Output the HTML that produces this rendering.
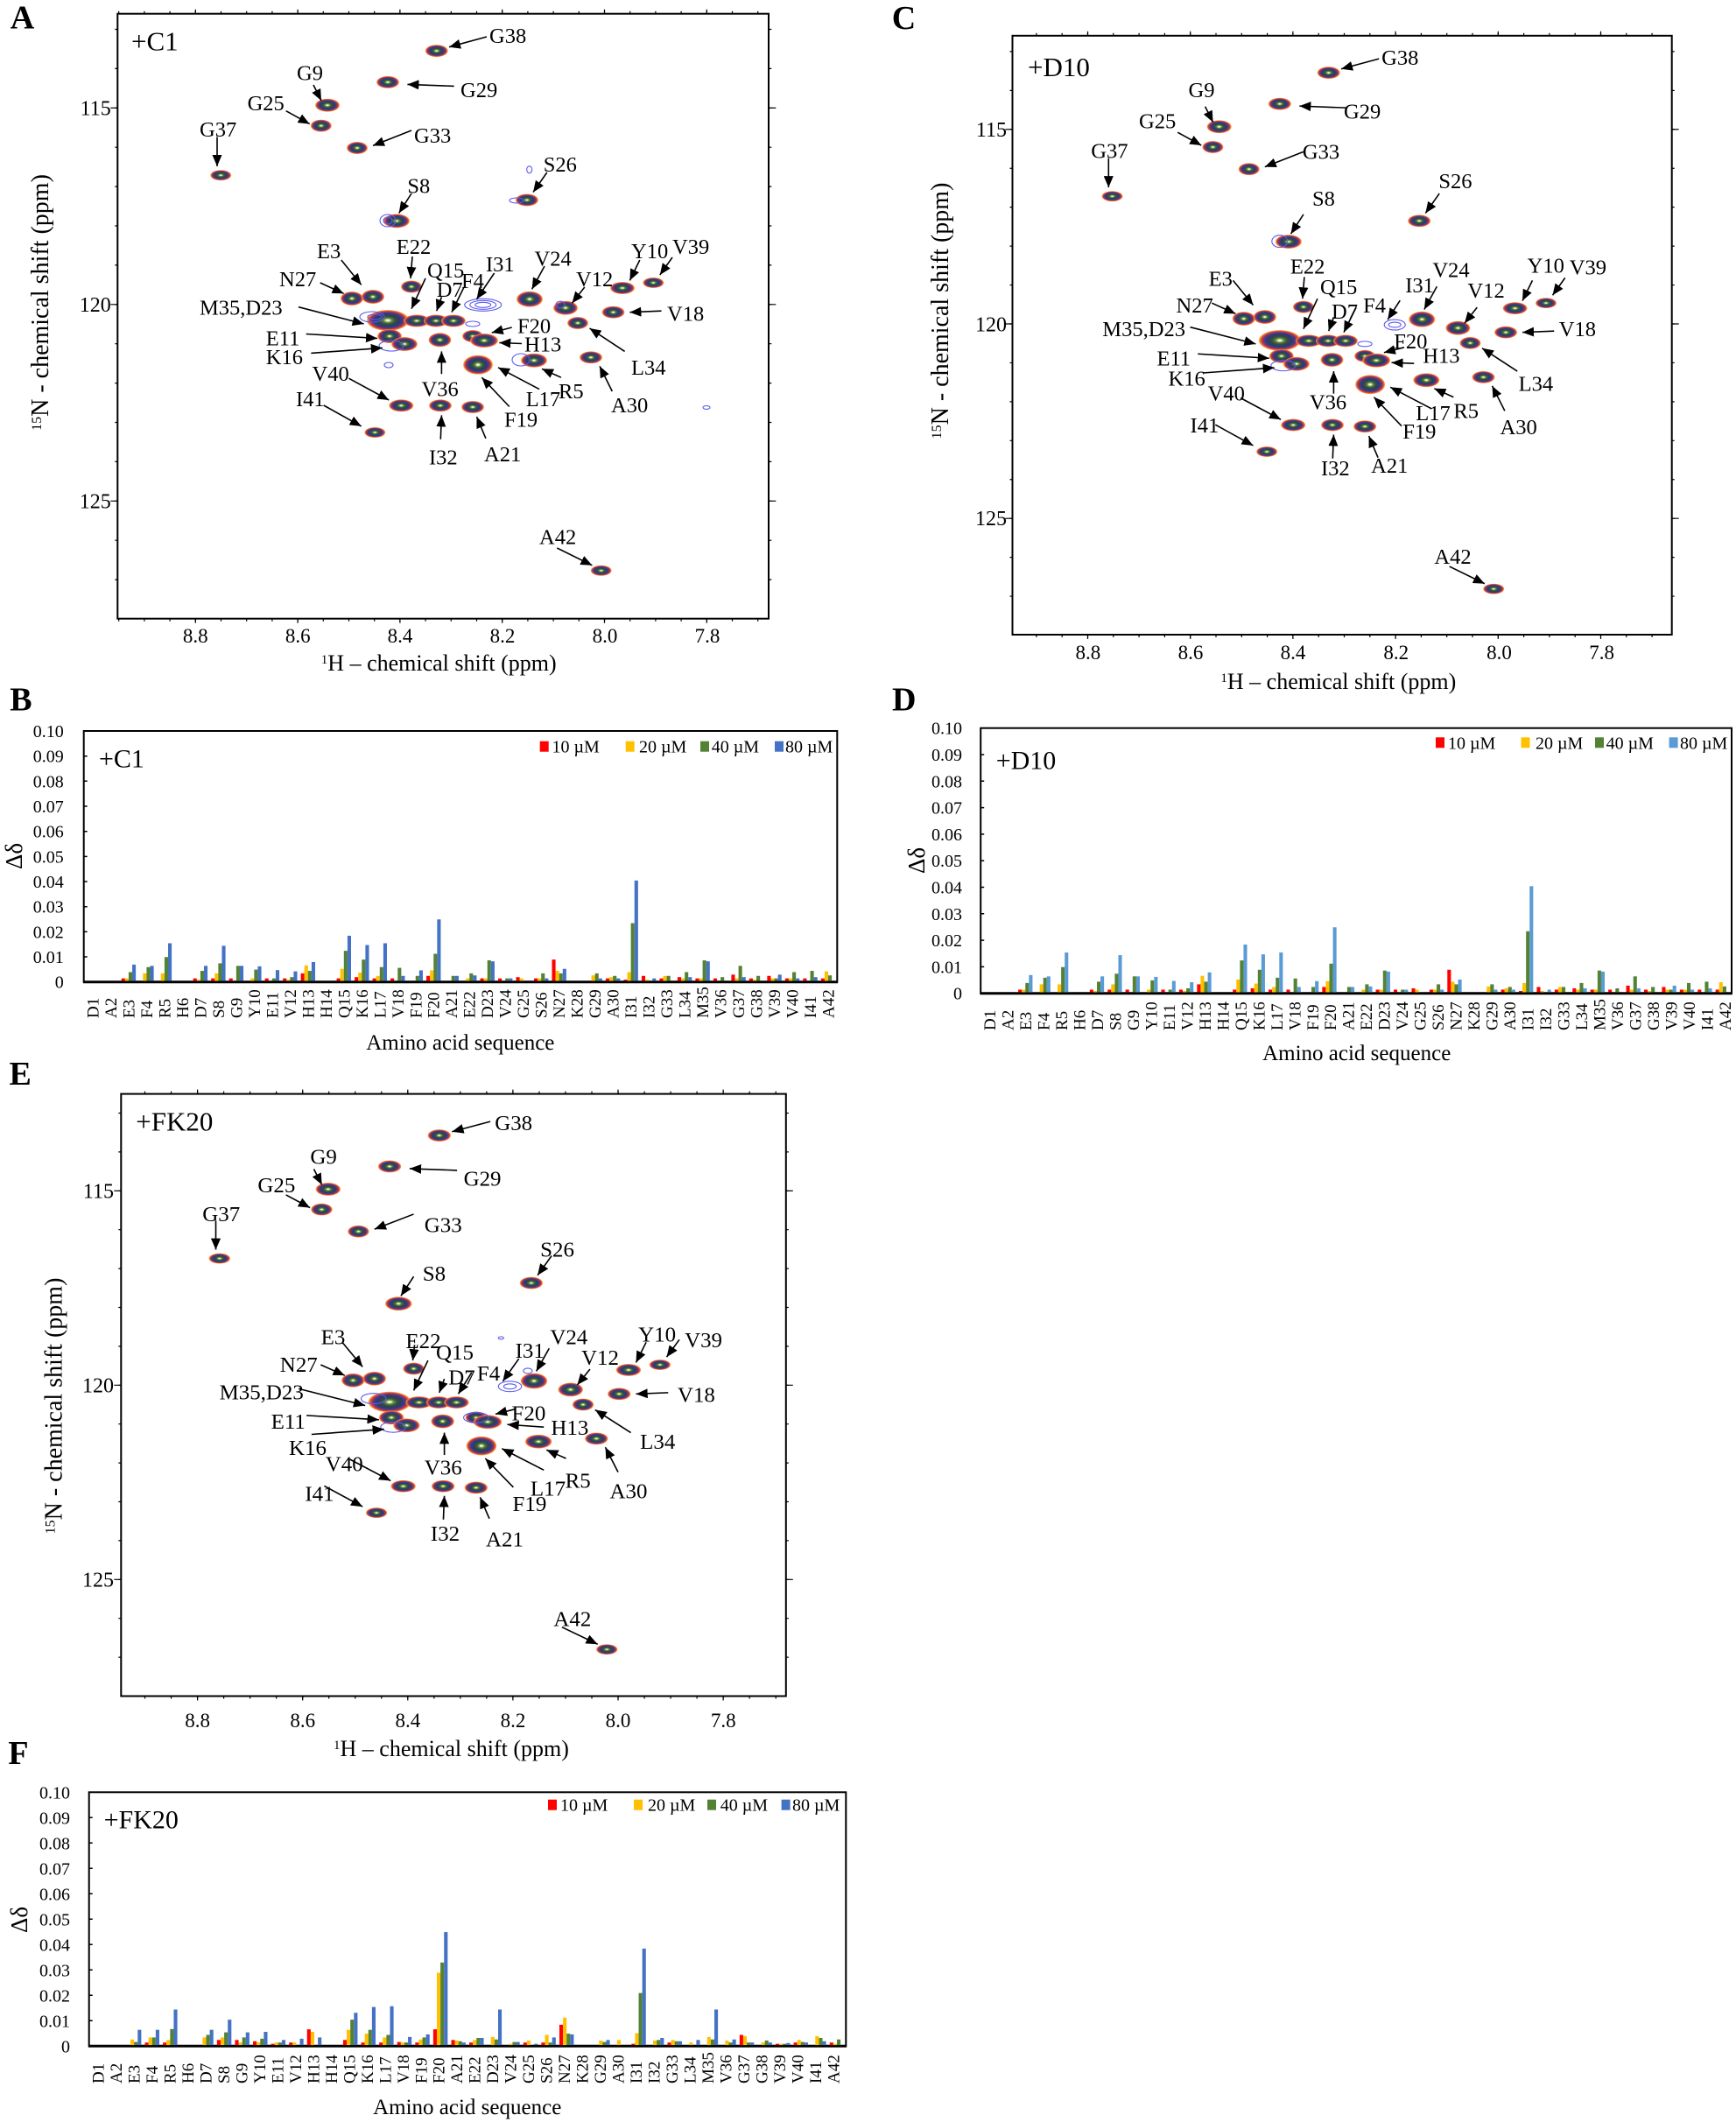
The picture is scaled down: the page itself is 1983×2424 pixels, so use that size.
<!DOCTYPE html>
<html><head><meta charset="utf-8"><style>
html,body{margin:0;padding:0;background:#fff}
svg{display:block}
text{font-family:"Liberation Serif","Times New Roman",serif;fill:#000}
.pl{font-size:24.5px}
.bl{font-size:38px;font-weight:bold}
</style></head><body>
<svg xmlns="http://www.w3.org/2000/svg" width="1983" height="2424" viewBox="0 0 1983 2424">
<defs>
<radialGradient id="pk">
<stop offset="0" stop-color="#ffffff"/>
<stop offset="0.08" stop-color="#e4f2b8"/>
<stop offset="0.2" stop-color="#5f8a42"/>
<stop offset="0.36" stop-color="#34503e"/>
<stop offset="0.56" stop-color="#2e3a68"/>
<stop offset="0.72" stop-color="#433c8e"/>
<stop offset="0.83" stop-color="#b83048"/>
<stop offset="0.92" stop-color="#ee6a30"/>
<stop offset="1" stop-color="#f5b040" stop-opacity="0.75"/>
</radialGradient>
<marker id="ah" markerUnits="userSpaceOnUse" markerWidth="14" markerHeight="11" refX="13" refY="5.5" orient="auto"><path d="M0,0 L13,5.5 L0,11 z" fill="#000"/></marker>
</defs>
<rect width="1983" height="2424" fill="#fff"/>

<!-- ================= PANEL A ================= -->
<text class="bl" x="11.7" y="32.3">A</text>
<rect x="134.3" y="15.7" width="743.7" height="691" fill="none" stroke="#000" stroke-width="2"/>
<g stroke="#000" fill="none">
<line x1="135.1" y1="14.2" x2="878" y2="14.2" stroke-width="3" stroke-dasharray="1.2 28"/>
<line x1="222.7" y1="13.2" x2="878" y2="13.2" stroke-width="5" stroke-dasharray="1.2 115.6"/>
<line x1="135.1" y1="708.2" x2="878" y2="708.2" stroke-width="3" stroke-dasharray="1.2 28"/>
<line x1="222.7" y1="709.2" x2="878" y2="709.2" stroke-width="5" stroke-dasharray="1.2 115.6"/>
<line x1="132.8" y1="32.9" x2="132.8" y2="706" stroke-width="3" stroke-dasharray="1.2 43.7"/>
<line x1="130.3" y1="122.7" x2="130.3" y2="706" stroke-width="8" stroke-dasharray="1.2 223.3"/>
<line x1="879.8" y1="32.9" x2="879.8" y2="706" stroke-width="3" stroke-dasharray="1.2 43.7"/>
<line x1="882.3" y1="122.7" x2="882.3" y2="706" stroke-width="8" stroke-dasharray="1.2 223.3"/>
</g>
<g font-size="24" text-anchor="end">
<text x="126.7" y="131.3">115</text><text x="126.7" y="355.8">120</text><text x="126.7" y="580.3">125</text>
</g>
<g font-size="23" text-anchor="middle">
<text x="223.3" y="734">8.8</text><text x="340.3" y="734">8.6</text><text x="457" y="734">8.4</text><text x="574" y="734">8.2</text><text x="691" y="734">8.0</text><text x="808" y="734">7.8</text>
</g>
<text x="366.8" y="766" font-size="26"><tspan font-size="15" baseline-shift="super">1</tspan>H – chemical shift (ppm)</text>
<text transform="translate(46,345.5) rotate(-90)" y="9" text-anchor="middle" font-size="28"><tspan font-size="16" baseline-shift="super">15</tspan>N - chemical shift (ppm)</text>
<text x="150" y="57.3" font-size="31">+C1</text>
<g>
<g fill="url(#pk)">
<ellipse cx="498.7" cy="58.1" rx="13" ry="7"/><ellipse cx="443" cy="93.9" rx="13" ry="7"/><ellipse cx="374" cy="120.2" rx="14" ry="7.5"/><ellipse cx="366.8" cy="143.6" rx="12" ry="7"/><ellipse cx="408" cy="169" rx="12" ry="7"/><ellipse cx="252.2" cy="200.2" rx="12" ry="6"/><ellipse cx="601.9" cy="228.5" rx="13" ry="7"/><ellipse cx="453" cy="252.4" rx="15" ry="8"/><ellipse cx="470" cy="327.5" rx="12" ry="7"/><ellipse cx="402" cy="341" rx="13" ry="8"/><ellipse cx="426" cy="339" rx="13" ry="8"/><ellipse cx="605" cy="341.7" rx="15" ry="9"/><ellipse cx="711" cy="329" rx="14" ry="7"/><ellipse cx="746.3" cy="323" rx="12" ry="6"/><ellipse cx="646" cy="351.7" rx="14" ry="8"/><ellipse cx="700.5" cy="356.7" rx="13" ry="7"/><ellipse cx="660" cy="369" rx="12" ry="7"/><ellipse cx="443" cy="366" rx="24" ry="12"/><ellipse cx="476" cy="366.5" rx="15" ry="7"/><ellipse cx="498" cy="366.5" rx="14" ry="7"/><ellipse cx="518" cy="366.5" rx="14" ry="7"/><ellipse cx="445" cy="384" rx="14" ry="8"/><ellipse cx="462" cy="393" rx="15" ry="8"/><ellipse cx="502.5" cy="388.3" rx="13" ry="8"/><ellipse cx="540" cy="384" rx="12" ry="7"/><ellipse cx="553" cy="389" rx="16" ry="8"/><ellipse cx="610" cy="411.7" rx="15" ry="8"/><ellipse cx="675" cy="408.3" rx="13" ry="7"/><ellipse cx="546" cy="416.7" rx="17" ry="11"/><ellipse cx="458.3" cy="463.3" rx="14" ry="7"/><ellipse cx="503" cy="463.3" rx="13" ry="7"/><ellipse cx="540" cy="465" rx="13" ry="7"/><ellipse cx="428.3" cy="494" rx="12" ry="6"/><ellipse cx="686.7" cy="651.8" rx="12" ry="6"/>
</g>
<g fill="none" stroke="#5a5af0" stroke-width="1.1">
<ellipse cx="551.7" cy="348.3" rx="21" ry="7"/><ellipse cx="551.7" cy="348.3" rx="15" ry="5"/><ellipse cx="551.7" cy="348.3" rx="9" ry="3"/>
<ellipse cx="425" cy="362" rx="14" ry="6"/><ellipse cx="428" cy="362" rx="8" ry="3"/>
<ellipse cx="443" cy="252" rx="9" ry="7"/><ellipse cx="443" cy="252" rx="5" ry="4"/>
<ellipse cx="595" cy="411" rx="10" ry="7"/><ellipse cx="447" cy="395" rx="14" ry="6"/>
<ellipse cx="807" cy="465.5" rx="4" ry="2"/><ellipse cx="444" cy="417" rx="5" ry="3"/><ellipse cx="604.7" cy="193.8" rx="3" ry="4"/><ellipse cx="590" cy="229" rx="8" ry="3"/><ellipse cx="540" cy="370" rx="8" ry="3"/><ellipse cx="640" cy="348" rx="5" ry="4"/>
</g>
<g stroke="#000" stroke-width="1.6" marker-end="url(#ah)">
<line x1="556" y1="42" x2="513" y2="53.7"/><line x1="518.7" y1="98.4" x2="465.4" y2="96.4"/><line x1="358" y1="97" x2="367" y2="115"/><line x1="326.7" y1="126.7" x2="353.7" y2="141.6"/><line x1="470" y1="149" x2="426" y2="166.4"/><line x1="248" y1="156.5" x2="248" y2="190"/><line x1="624.8" y1="197" x2="609" y2="219.6"/><line x1="470" y1="221" x2="455.7" y2="243.4"/><line x1="389.8" y1="297" x2="412.7" y2="325.4"/><line x1="365.7" y1="323" x2="392.6" y2="335.3"/><line x1="471" y1="293" x2="469" y2="318"/><line x1="486" y1="318" x2="470" y2="352.7"/><line x1="504.4" y1="339.3" x2="498.7" y2="355.2"/><line x1="530" y1="328" x2="516" y2="356.7"/><line x1="564.6" y1="312" x2="544.5" y2="341.8"/><line x1="622" y1="304" x2="607.6" y2="330.4"/><line x1="667.8" y1="328" x2="653.5" y2="346.3"/><line x1="730.8" y1="297" x2="719.4" y2="320.4"/><line x1="768" y1="294" x2="753.8" y2="314"/><line x1="755.5" y1="355.2" x2="719.4" y2="356.7"/><line x1="713.6" y1="401.4" x2="673.5" y2="375"/><line x1="341" y1="350.7" x2="415.6" y2="370"/><line x1="584.7" y1="374" x2="561.7" y2="380"/><line x1="596" y1="392.5" x2="570.3" y2="391.5"/><line x1="349.7" y1="381.5" x2="431" y2="386.5"/><line x1="355.4" y1="403.4" x2="436.8" y2="397.4"/><line x1="504.4" y1="427.2" x2="504.4" y2="401.4"/><line x1="616" y1="444.6" x2="569" y2="419.8"/><line x1="640.9" y1="431.2" x2="619" y2="421.3"/><line x1="581.8" y1="464.5" x2="550.3" y2="431.2"/><line x1="699.3" y1="447" x2="685" y2="418.3"/><line x1="398.4" y1="432.2" x2="444.2" y2="457"/><line x1="503.3" y1="501.8" x2="504.4" y2="474.4"/><line x1="554.9" y1="500.8" x2="544.5" y2="476"/><line x1="369.7" y1="463" x2="412.7" y2="486.9"/><line x1="636.3" y1="626" x2="676.4" y2="645.8"/>
</g>
<g class="pl">
<text x="559" y="49">G38</text><text x="526" y="111">G29</text><text x="339" y="91.5">G9</text><text x="282.6" y="126">G25</text><text x="473" y="163">G33</text><text x="228" y="156">G37</text><text x="620.8" y="196">S26</text><text x="465.4" y="220.6">S8</text><text x="362" y="295">E3</text><text x="319" y="327">N27</text><text x="452.8" y="290">E22</text><text x="488" y="317">Q15</text><text x="498.7" y="339">D7</text><text x="527" y="329">F4</text><text x="555" y="310">I31</text><text x="610.5" y="303.6">V24</text><text x="658" y="327">V12</text><text x="721" y="295">Y10</text><text x="768" y="290">V39</text><text x="762" y="366.7">V18</text><text x="721" y="428">L34</text><text x="228" y="359.7">M35,D23</text><text x="591" y="380.6">F20</text><text x="599" y="401.5">H13</text><text x="303.8" y="394.5">E11</text><text x="303.8" y="416">K16</text><text x="481.5" y="452.6">V36</text><text x="600.7" y="464">L17</text><text x="638" y="455">R5</text><text x="576" y="487.4">F19</text><text x="698" y="471">A30</text><text x="356.5" y="435">V40</text><text x="490" y="530.6">I32</text><text x="553" y="527">A21</text><text x="338" y="464">I41</text><text x="616" y="621.5">A42</text>
</g>
</g>

<!-- ================= PANEL C ================= -->
<text class="bl" x="1018.8" y="33">C</text>
<rect x="1156.5" y="40.8" width="753.2" height="684.2" fill="none" stroke="#000" stroke-width="2"/>
<g stroke="#000" fill="none">
<line x1="1183.3" y1="39.3" x2="1909" y2="39.3" stroke-width="3" stroke-dasharray="1.2 28.1"/>
<line x1="1241.9" y1="38.3" x2="1909" y2="38.3" stroke-width="5" stroke-dasharray="1.2 116"/>
<line x1="1183.3" y1="726.5" x2="1909" y2="726.5" stroke-width="3" stroke-dasharray="1.2 28.1"/>
<line x1="1241.9" y1="727.5" x2="1909" y2="727.5" stroke-width="5" stroke-dasharray="1.2 116"/>
<line x1="1155" y1="58.3" x2="1155" y2="724" stroke-width="3" stroke-dasharray="1.2 43.24"/>
<line x1="1152.5" y1="147.2" x2="1152.5" y2="724" stroke-width="8" stroke-dasharray="1.2 221"/>
<line x1="1911.2" y1="58.3" x2="1911.2" y2="724" stroke-width="3" stroke-dasharray="1.2 43.24"/>
<line x1="1913.7" y1="147.2" x2="1913.7" y2="724" stroke-width="8" stroke-dasharray="1.2 221"/>
</g>
<g font-size="24" text-anchor="end">
<text x="1150" y="155.8">115</text><text x="1150" y="378.5">120</text><text x="1150" y="600.2">125</text>
</g>
<g font-size="23" text-anchor="middle">
<text x="1242.9" y="753">8.8</text><text x="1360" y="753">8.6</text><text x="1477" y="753">8.4</text><text x="1594.8" y="753">8.2</text><text x="1712.5" y="753">8.0</text><text x="1829.6" y="753">7.8</text>
</g>
<text x="1394.4" y="787" font-size="26"><tspan font-size="15" baseline-shift="super">1</tspan>H – chemical shift (ppm)</text>
<text transform="translate(1074,355) rotate(-90)" y="9" text-anchor="middle" font-size="28"><tspan font-size="16" baseline-shift="super">15</tspan>N - chemical shift (ppm)</text>
<text x="1174" y="87" font-size="31">+D10</text>
<g transform="matrix(1.0028 0 0 0.9931 1017.6 25.4)">
<g fill="url(#pk)">
<ellipse cx="498.7" cy="58.1" rx="13" ry="7"/><ellipse cx="443" cy="93.9" rx="13" ry="7"/><ellipse cx="374" cy="120.2" rx="14" ry="7.5"/><ellipse cx="366.8" cy="143.6" rx="12" ry="7"/><ellipse cx="408" cy="169" rx="12" ry="7"/><ellipse cx="252.2" cy="200.2" rx="12" ry="6"/><ellipse cx="601.9" cy="228.5" rx="13" ry="7"/><ellipse cx="453" cy="252.4" rx="15" ry="8"/><ellipse cx="470" cy="327.5" rx="12" ry="7"/><ellipse cx="402" cy="341" rx="13" ry="8"/><ellipse cx="426" cy="339" rx="13" ry="8"/><ellipse cx="605" cy="341.7" rx="15" ry="9"/><ellipse cx="711" cy="329" rx="14" ry="7"/><ellipse cx="746.3" cy="323" rx="12" ry="6"/><ellipse cx="646" cy="351.7" rx="14" ry="8"/><ellipse cx="700.5" cy="356.7" rx="13" ry="7"/><ellipse cx="660" cy="369" rx="12" ry="7"/><ellipse cx="443" cy="366" rx="24" ry="12"/><ellipse cx="476" cy="366.5" rx="15" ry="7"/><ellipse cx="498" cy="366.5" rx="14" ry="7"/><ellipse cx="518" cy="366.5" rx="14" ry="7"/><ellipse cx="445" cy="384" rx="14" ry="8"/><ellipse cx="462" cy="393" rx="15" ry="8"/><ellipse cx="502.5" cy="388.3" rx="13" ry="8"/><ellipse cx="540" cy="384" rx="12" ry="7"/><ellipse cx="553" cy="389" rx="16" ry="8"/><ellipse cx="610" cy="411.7" rx="15" ry="8"/><ellipse cx="675" cy="408.3" rx="13" ry="7"/><ellipse cx="546" cy="416.7" rx="17" ry="11"/><ellipse cx="458.3" cy="463.3" rx="14" ry="7"/><ellipse cx="503" cy="463.3" rx="13" ry="7"/><ellipse cx="540" cy="465" rx="13" ry="7"/><ellipse cx="428.3" cy="494" rx="12" ry="6"/><ellipse cx="686.7" cy="651.8" rx="12" ry="6"/>
</g>
<g fill="none" stroke="#5a5af0" stroke-width="1.1">
<ellipse cx="574" cy="348" rx="12" ry="6"/><ellipse cx="574" cy="348" rx="7" ry="3"/>
<ellipse cx="443" cy="252" rx="9" ry="7"/><ellipse cx="447" cy="395" rx="14" ry="6"/><ellipse cx="540" cy="370" rx="8" ry="3"/>
</g>
<g stroke="#000" stroke-width="1.6" marker-end="url(#ah)">
<line x1="556" y1="42" x2="513" y2="53.7"/><line x1="518.7" y1="98.4" x2="465.4" y2="96.4"/><line x1="358" y1="97" x2="367" y2="115"/><line x1="326.7" y1="126.7" x2="353.7" y2="141.6"/><line x1="470" y1="149" x2="426" y2="166.4"/><line x1="248" y1="156.5" x2="248" y2="190"/><line x1="624.8" y1="197" x2="609" y2="219.6"/><line x1="470" y1="221" x2="455.7" y2="243.4"/><line x1="389.8" y1="297" x2="412.7" y2="325.4"/><line x1="365.7" y1="323" x2="392.6" y2="335.3"/><line x1="471" y1="293" x2="469" y2="318"/><line x1="486" y1="318" x2="470" y2="352.7"/><line x1="504.4" y1="339.3" x2="498.7" y2="355.2"/><line x1="530" y1="328" x2="516" y2="356.7"/><line x1="580" y1="320" x2="566" y2="342"/><line x1="622" y1="304" x2="607.6" y2="330.4"/><line x1="667.8" y1="328" x2="653.5" y2="346.3"/><line x1="730.8" y1="297" x2="719.4" y2="320.4"/><line x1="768" y1="294" x2="753.8" y2="314"/><line x1="755.5" y1="355.2" x2="719.4" y2="356.7"/><line x1="713.6" y1="401.4" x2="673.5" y2="375"/><line x1="341" y1="350.7" x2="415.6" y2="370"/><line x1="584.7" y1="374" x2="561.7" y2="380"/><line x1="596" y1="392.5" x2="570.3" y2="391.5"/><line x1="349.7" y1="381.5" x2="431" y2="386.5"/><line x1="355.4" y1="403.4" x2="436.8" y2="397.4"/><line x1="504.4" y1="427.2" x2="504.4" y2="401.4"/><line x1="616" y1="444.6" x2="569" y2="419.8"/><line x1="640.9" y1="431.2" x2="619" y2="421.3"/><line x1="581.8" y1="464.5" x2="550.3" y2="431.2"/><line x1="699.3" y1="447" x2="685" y2="418.3"/><line x1="398.4" y1="432.2" x2="444.2" y2="457"/><line x1="503.3" y1="501.8" x2="504.4" y2="474.4"/><line x1="554.9" y1="500.8" x2="544.5" y2="476"/><line x1="369.7" y1="463" x2="412.7" y2="486.9"/><line x1="636.3" y1="626" x2="676.4" y2="645.8"/>
</g>
<g class="pl">
<text x="559" y="49">G38</text><text x="516" y="111">G29</text><text x="339" y="86">G9</text><text x="282.6" y="122">G25</text><text x="469" y="157">G33</text><text x="228" y="156">G37</text><text x="624" y="191">S26</text><text x="480" y="211">S8</text><text x="362" y="303">E3</text><text x="325" y="334">N27</text><text x="455" y="289">E22</text><text x="489" y="313">Q15</text><text x="502" y="341">D7</text><text x="538" y="334">F4</text><text x="586" y="311">I31</text><text x="617" y="293">V24</text><text x="657" y="317">V12</text><text x="725" y="288">Y10</text><text x="773" y="290">V39</text><text x="761" y="361">V18</text><text x="715" y="424">L34</text><text x="241" y="361">M35,D23</text><text x="573" y="375">F20</text><text x="606" y="392">H13</text><text x="303" y="395">E11</text><text x="316" y="418">K16</text><text x="477" y="445">V36</text><text x="598" y="458">L17</text><text x="641" y="455">R5</text><text x="583" y="479">F19</text><text x="694" y="474">A30</text><text x="361" y="435">V40</text><text x="490" y="521">I32</text><text x="547" y="518">A21</text><text x="341" y="472">I41</text><text x="619" y="623">A42</text>
</g>
</g>

<!-- ================= PANEL B ================= -->
<text class="bl" x="11.2" y="811.7">B</text>
<rect x="95.7" y="835" width="860.6" height="286.7" fill="none" stroke="#000" stroke-width="2"/>
<line x1="95" y1="1121.7" x2="957" y2="1121.7" stroke="#000" stroke-width="3"/>
<path d="M95.7 835h4M95.7 863.7h4M95.7 892.3h4M95.7 921h4M95.7 949.7h4M95.7 978.4h4M95.7 1007h4M95.7 1035.7h4M95.7 1064.4h4M95.7 1093h4" stroke="#000" stroke-width="1.5"/>
<g font-size="20" text-anchor="end">
<text x="72.7" y="842">0.10</text><text x="72.7" y="870.7">0.09</text><text x="72.7" y="899.3">0.08</text><text x="72.7" y="928">0.07</text><text x="72.7" y="956.7">0.06</text><text x="72.7" y="985.4">0.05</text><text x="72.7" y="1014">0.04</text><text x="72.7" y="1042.7">0.03</text><text x="72.7" y="1071.4">0.02</text><text x="72.7" y="1100">0.01</text><text x="72.7" y="1128.7">0</text>
</g>
<text transform="translate(16,978) rotate(-90)" y="9" text-anchor="middle" font-size="27">Δδ</text>
<text x="113" y="876.7" font-size="30">+C1</text>
<rect x="616.7" y="846.7" width="10" height="12" fill="#ff0000"/><text x="630.5" y="859.7" font-size="20">10 µM</text>
<rect x="714.7" y="846.7" width="10" height="12" fill="#ffc000"/><text x="730" y="859.7" font-size="20">20 µM</text>
<rect x="800" y="846.7" width="10" height="12" fill="#548235"/><text x="812.7" y="859.7" font-size="20">40 µM</text>
<rect x="885" y="846.7" width="10" height="12" fill="#4472c4"/><text x="897" y="859.7" font-size="20">80 µM</text>
<g transform="translate(95.7,1120.5) scale(4.098,-2.867)">
<g fill="#ff0000"><rect x="10.5" width="1" height="1"/><rect x="30.5" width="1" height="1"/><rect x="35.5" width="1" height="1"/><rect x="40.5" width="1" height="1"/><rect x="50.5" width="1" height="1"/><rect x="55.5" width="1" height="1"/><rect x="60.5" width="1" height="3"/><rect x="70.5" width="1" height="1"/><rect x="75.5" width="1" height="1.5"/><rect x="80.5" width="1" height="1"/><rect x="85.5" width="1" height="1"/><rect x="95.5" width="1" height="2"/><rect x="110.5" width="1" height="1"/><rect x="115.5" width="1" height="1"/><rect x="120.5" width="1" height="1.5"/><rect x="125.5" width="1" height="1"/><rect x="130.5" width="1" height="8.5"/><rect x="145.5" width="1" height="1"/><rect x="150.5" width="1" height="0.5"/><rect x="155.5" width="1" height="2"/><rect x="160.5" width="1" height="1"/><rect x="165.5" width="1" height="1.5"/><rect x="170.5" width="1" height="1"/><rect x="175.5" width="1" height="1"/><rect x="180.5" width="1" height="2.5"/><rect x="185.5" width="1" height="1"/><rect x="190.5" width="1" height="2"/><rect x="195.5" width="1" height="1"/><rect x="200.5" width="1" height="1"/><rect x="205.5" width="1" height="1"/></g>
<g fill="#ffc000"><rect x="11.5" width="1" height="1"/><rect x="16.5" width="1" height="3"/><rect x="21.5" width="1" height="3"/><rect x="31.5" width="1" height="0.5"/><rect x="36.5" width="1" height="3"/><rect x="46.5" width="1" height="1"/><rect x="56.5" width="1" height="0.5"/><rect x="61.5" width="1" height="6.2"/><rect x="71.5" width="1" height="4.8"/><rect x="76.5" width="1" height="3.3"/><rect x="81.5" width="1" height="2"/><rect x="96.5" width="1" height="4.2"/><rect x="106.5" width="1" height="1"/><rect x="111.5" width="1" height="1"/><rect x="121.5" width="1" height="1"/><rect x="126.5" width="1" height="1"/><rect x="131.5" width="1" height="4"/><rect x="141.5" width="1" height="2.2"/><rect x="146.5" width="1" height="1.5"/><rect x="151.5" width="1" height="3.5"/><rect x="156.5" width="1" height="0.5"/><rect x="161.5" width="1" height="2"/><rect x="166.5" width="1" height="1"/><rect x="171.5" width="1" height="1"/><rect x="181.5" width="1" height="1"/><rect x="186.5" width="1" height="0.5"/><rect x="191.5" width="1" height="1"/><rect x="196.5" width="1" height="1"/><rect x="206.5" width="1" height="3.8"/></g>
<g fill="#548235"><rect x="12.5" width="1" height="3.5"/><rect x="17.5" width="1" height="5.5"/><rect x="22.5" width="1" height="9.5"/><rect x="32.5" width="1" height="4"/><rect x="37.5" width="1" height="7"/><rect x="42.5" width="1" height="6"/><rect x="47.5" width="1" height="4.5"/><rect x="52.5" width="1" height="1"/><rect x="57.5" width="1" height="1.5"/><rect x="62.5" width="1" height="4"/><rect x="72.5" width="1" height="12"/><rect x="77.5" width="1" height="8.5"/><rect x="82.5" width="1" height="5.5"/><rect x="87.5" width="1" height="5.2"/><rect x="92.5" width="1" height="2"/><rect x="97.5" width="1" height="10.8"/><rect x="102.5" width="1" height="2"/><rect x="107.5" width="1" height="3"/><rect x="112.5" width="1" height="8.2"/><rect x="117.5" width="1" height="1"/><rect x="127.5" width="1" height="3"/><rect x="132.5" width="1" height="3"/><rect x="142.5" width="1" height="3"/><rect x="147.5" width="1" height="2"/><rect x="152.5" width="1" height="23"/><rect x="162.5" width="1" height="2"/><rect x="167.5" width="1" height="3.5"/><rect x="172.5" width="1" height="8.2"/><rect x="177.5" width="1" height="1.5"/><rect x="182.5" width="1" height="6"/><rect x="187.5" width="1" height="2"/><rect x="192.5" width="1" height="1"/><rect x="197.5" width="1" height="3.5"/><rect x="202.5" width="1" height="4"/><rect x="207.5" width="1" height="2.2"/></g>
<g fill="#4472c4"><rect x="13.5" width="1" height="6.5"/><rect x="18.5" width="1" height="6"/><rect x="23.5" width="1" height="15"/><rect x="33.5" width="1" height="6"/><rect x="38.5" width="1" height="14"/><rect x="43.5" width="1" height="6"/><rect x="48.5" width="1" height="5.8"/><rect x="53.5" width="1" height="4.3"/><rect x="58.5" width="1" height="3.8"/><rect x="63.5" width="1" height="7.5"/><rect x="73.5" width="1" height="18"/><rect x="78.5" width="1" height="14.3"/><rect x="83.5" width="1" height="15"/><rect x="88.5" width="1" height="2"/><rect x="93.5" width="1" height="4.2"/><rect x="98.5" width="1" height="24.5"/><rect x="103.5" width="1" height="2"/><rect x="108.5" width="1" height="2.2"/><rect x="113.5" width="1" height="7.8"/><rect x="118.5" width="1" height="1"/><rect x="128.5" width="1" height="1"/><rect x="133.5" width="1" height="4.8"/><rect x="143.5" width="1" height="1"/><rect x="148.5" width="1" height="1"/><rect x="153.5" width="1" height="40"/><rect x="158.5" width="1" height="1"/><rect x="168.5" width="1" height="1.5"/><rect x="173.5" width="1" height="7.8"/><rect x="183.5" width="1" height="1.5"/><rect x="193.5" width="1" height="2.5"/><rect x="198.5" width="1" height="1"/><rect x="203.5" width="1" height="1.5"/></g>
</g>
<g transform="translate(95.7,1163) rotate(-90)" font-size="19">
<text y="16.75">D1</text><text y="37.24">A2</text><text y="57.73">E3</text><text y="78.22">F4</text><text y="98.71">R5</text><text y="119.2">H6</text><text y="139.69">D7</text><text y="160.18">S8</text><text y="180.67">G9</text><text y="201.16">Y10</text><text y="221.65">E11</text><text y="242.14">V12</text><text y="262.63">H13</text><text y="283.12">H14</text><text y="303.61">Q15</text><text y="324.1">K16</text><text y="344.59">L17</text><text y="365.08">V18</text><text y="385.57">F19</text><text y="406.06">F20</text><text y="426.55">A21</text><text y="447.04">E22</text><text y="467.53">D23</text><text y="488.02">V24</text><text y="508.51">G25</text><text y="529">S26</text><text y="549.49">N27</text><text y="569.98">K28</text><text y="590.47">G29</text><text y="610.96">A30</text><text y="631.45">I31</text><text y="651.94">I32</text><text y="672.43">G33</text><text y="692.92">L34</text><text y="713.41">M35</text><text y="733.9">V36</text><text y="754.39">G37</text><text y="774.88">G38</text><text y="795.37">V39</text><text y="815.86">V40</text><text y="836.35">I41</text><text y="856.84">A42</text>
</g>
<text x="525.8" y="1199" font-size="25" text-anchor="middle">Amino acid sequence</text>

<!-- ================= PANEL D ================= -->
<text class="bl" x="1019" y="811.7">D</text>
<rect x="1120.2" y="831.7" width="857.8" height="303" fill="none" stroke="#000" stroke-width="2"/>
<line x1="1119.5" y1="1134.7" x2="1978.7" y2="1134.7" stroke="#000" stroke-width="3"/>
<path d="M1120.2 831.7h4M1120.2 862h4M1120.2 892.3h4M1120.2 922.6h4M1120.2 952.9h4M1120.2 983.2h4M1120.2 1013.5h4M1120.2 1043.8h4M1120.2 1074.1h4M1120.2 1104.4h4" stroke="#000" stroke-width="1.5"/>
<g font-size="20" text-anchor="end">
<text x="1099" y="838.7">0.10</text><text x="1099" y="869">0.09</text><text x="1099" y="899.3">0.08</text><text x="1099" y="929.6">0.07</text><text x="1099" y="959.9">0.06</text><text x="1099" y="990.2">0.05</text><text x="1099" y="1020.5">0.04</text><text x="1099" y="1050.8">0.03</text><text x="1099" y="1081.1">0.02</text><text x="1099" y="1111.4">0.01</text><text x="1099" y="1141.7">0</text>
</g>
<text transform="translate(1047,983) rotate(-90)" y="9" text-anchor="middle" font-size="27">Δδ</text>
<text x="1137.7" y="878.5" font-size="30">+D10</text>
<rect x="1640" y="842.3" width="10" height="12" fill="#ff0000"/><text x="1654" y="855.3" font-size="20">10 µM</text>
<rect x="1737.5" y="842.3" width="10" height="12" fill="#ffc000"/><text x="1754" y="855.3" font-size="20">20 µM</text>
<rect x="1822" y="842.3" width="10" height="12" fill="#548235"/><text x="1834.6" y="855.3" font-size="20">40 µM</text>
<rect x="1906.6" y="842.3" width="10" height="12" fill="#5b9bd5"/><text x="1919" y="855.3" font-size="20">80 µM</text>
<g transform="translate(1120.2,1133.5) scale(4.085,-3.03)">
<g fill="#ff0000"><rect x="10.5" width="1" height="1"/><rect x="30.5" width="1" height="1"/><rect x="35.5" width="1" height="1"/><rect x="40.5" width="1" height="1"/><rect x="50.5" width="1" height="1"/><rect x="55.5" width="1" height="1"/><rect x="60.5" width="1" height="3"/><rect x="70.5" width="1" height="1"/><rect x="75.5" width="1" height="1.5"/><rect x="80.5" width="1" height="1"/><rect x="85.5" width="1" height="1"/><rect x="95.5" width="1" height="2"/><rect x="110.5" width="1" height="1"/><rect x="115.5" width="1" height="1"/><rect x="120.5" width="1" height="1.5"/><rect x="125.5" width="1" height="1"/><rect x="130.5" width="1" height="8.5"/><rect x="145.5" width="1" height="1"/><rect x="150.5" width="1" height="0.5"/><rect x="155.5" width="1" height="2"/><rect x="160.5" width="1" height="1"/><rect x="165.5" width="1" height="1.5"/><rect x="170.5" width="1" height="1"/><rect x="175.5" width="1" height="1"/><rect x="180.5" width="1" height="2.5"/><rect x="185.5" width="1" height="1"/><rect x="190.5" width="1" height="2"/><rect x="195.5" width="1" height="1"/><rect x="200.5" width="1" height="1"/><rect x="205.5" width="1" height="1"/></g>
<g fill="#ffc000"><rect x="11.5" width="1" height="1"/><rect x="16.5" width="1" height="3"/><rect x="21.5" width="1" height="3"/><rect x="31.5" width="1" height="0.5"/><rect x="36.5" width="1" height="3"/><rect x="46.5" width="1" height="1"/><rect x="56.5" width="1" height="0.5"/><rect x="61.5" width="1" height="6.2"/><rect x="71.5" width="1" height="4.8"/><rect x="76.5" width="1" height="3.3"/><rect x="81.5" width="1" height="2"/><rect x="96.5" width="1" height="4.2"/><rect x="106.5" width="1" height="1"/><rect x="111.5" width="1" height="1"/><rect x="121.5" width="1" height="1"/><rect x="126.5" width="1" height="1"/><rect x="131.5" width="1" height="4"/><rect x="141.5" width="1" height="2.2"/><rect x="146.5" width="1" height="1.5"/><rect x="151.5" width="1" height="3.5"/><rect x="156.5" width="1" height="0.5"/><rect x="161.5" width="1" height="2"/><rect x="166.5" width="1" height="1"/><rect x="171.5" width="1" height="1"/><rect x="181.5" width="1" height="1"/><rect x="186.5" width="1" height="0.5"/><rect x="191.5" width="1" height="1"/><rect x="196.5" width="1" height="1"/><rect x="206.5" width="1" height="3.8"/></g>
<g fill="#548235"><rect x="12.5" width="1" height="3.5"/><rect x="17.5" width="1" height="5.5"/><rect x="22.5" width="1" height="9.5"/><rect x="32.5" width="1" height="4"/><rect x="37.5" width="1" height="7"/><rect x="42.5" width="1" height="6"/><rect x="47.5" width="1" height="4.5"/><rect x="52.5" width="1" height="1"/><rect x="57.5" width="1" height="1.5"/><rect x="62.5" width="1" height="4"/><rect x="72.5" width="1" height="12"/><rect x="77.5" width="1" height="8.5"/><rect x="82.5" width="1" height="5.5"/><rect x="87.5" width="1" height="5.2"/><rect x="92.5" width="1" height="2"/><rect x="97.5" width="1" height="10.8"/><rect x="102.5" width="1" height="2"/><rect x="107.5" width="1" height="3"/><rect x="112.5" width="1" height="8.2"/><rect x="117.5" width="1" height="1"/><rect x="127.5" width="1" height="3"/><rect x="132.5" width="1" height="3"/><rect x="142.5" width="1" height="3"/><rect x="147.5" width="1" height="2"/><rect x="152.5" width="1" height="23"/><rect x="162.5" width="1" height="2"/><rect x="167.5" width="1" height="3.5"/><rect x="172.5" width="1" height="8.2"/><rect x="177.5" width="1" height="1.5"/><rect x="182.5" width="1" height="6"/><rect x="187.5" width="1" height="2"/><rect x="192.5" width="1" height="1"/><rect x="197.5" width="1" height="3.5"/><rect x="202.5" width="1" height="4"/><rect x="207.5" width="1" height="2.2"/></g>
<g fill="#5b9bd5"><rect x="13.5" width="1" height="6.5"/><rect x="18.5" width="1" height="6"/><rect x="23.5" width="1" height="15"/><rect x="33.5" width="1" height="6"/><rect x="38.5" width="1" height="14"/><rect x="43.5" width="1" height="6"/><rect x="48.5" width="1" height="5.8"/><rect x="53.5" width="1" height="4.3"/><rect x="58.5" width="1" height="3.8"/><rect x="63.5" width="1" height="7.5"/><rect x="73.5" width="1" height="18"/><rect x="78.5" width="1" height="14.3"/><rect x="83.5" width="1" height="15"/><rect x="88.5" width="1" height="2"/><rect x="93.5" width="1" height="4.2"/><rect x="98.5" width="1" height="24.5"/><rect x="103.5" width="1" height="2"/><rect x="108.5" width="1" height="2.2"/><rect x="113.5" width="1" height="7.8"/><rect x="118.5" width="1" height="1"/><rect x="128.5" width="1" height="1"/><rect x="133.5" width="1" height="4.8"/><rect x="143.5" width="1" height="1"/><rect x="148.5" width="1" height="1"/><rect x="153.5" width="1" height="40"/><rect x="158.5" width="1" height="1"/><rect x="168.5" width="1" height="1.5"/><rect x="173.5" width="1" height="7.8"/><rect x="183.5" width="1" height="1.5"/><rect x="193.5" width="1" height="2.5"/><rect x="198.5" width="1" height="1"/><rect x="203.5" width="1" height="1.5"/></g>
</g>
<g transform="translate(1120.2,1177) rotate(-90)" font-size="19">
<text y="16.75">D1</text><text y="37.24">A2</text><text y="57.73">E3</text><text y="78.22">F4</text><text y="98.71">R5</text><text y="119.2">H6</text><text y="139.69">D7</text><text y="160.18">S8</text><text y="180.67">G9</text><text y="201.16">Y10</text><text y="221.65">E11</text><text y="242.14">V12</text><text y="262.63">H13</text><text y="283.12">H14</text><text y="303.61">Q15</text><text y="324.1">K16</text><text y="344.59">L17</text><text y="365.08">V18</text><text y="385.57">F19</text><text y="406.06">F20</text><text y="426.55">A21</text><text y="447.04">E22</text><text y="467.53">D23</text><text y="488.02">V24</text><text y="508.51">G25</text><text y="529">S26</text><text y="549.49">N27</text><text y="569.98">K28</text><text y="590.47">G29</text><text y="610.96">A30</text><text y="631.45">I31</text><text y="651.94">I32</text><text y="672.43">G33</text><text y="692.92">L34</text><text y="713.41">M35</text><text y="733.9">V36</text><text y="754.39">G37</text><text y="774.88">G38</text><text y="795.37">V39</text><text y="815.86">V40</text><text y="836.35">I41</text><text y="856.84">A42</text>
</g>
<text x="1549.7" y="1211" font-size="25" text-anchor="middle">Amino acid sequence</text>

<!-- ================= PANEL E ================= -->
<text class="bl" x="10.5" y="1239">E</text>
<rect x="138.3" y="1249.6" width="759.5" height="687.9" fill="none" stroke="#000" stroke-width="2"/>
<g stroke="#000" fill="none">
<line x1="164.9" y1="1248.1" x2="897" y2="1248.1" stroke-width="3" stroke-dasharray="1.2 28.83"/>
<line x1="225" y1="1247.1" x2="897" y2="1247.1" stroke-width="5" stroke-dasharray="1.2 118.9"/>
<line x1="164.9" y1="1939" x2="897" y2="1939" stroke-width="3" stroke-dasharray="1.2 28.83"/>
<line x1="225" y1="1940" x2="897" y2="1940" stroke-width="5" stroke-dasharray="1.2 118.9"/>
<line x1="136.8" y1="1270.9" x2="136.8" y2="1936" stroke-width="3" stroke-dasharray="1.2 43.2"/>
<line x1="134.3" y1="1359.7" x2="134.3" y2="1936" stroke-width="8" stroke-dasharray="1.2 220.8"/>
<line x1="899.3" y1="1270.9" x2="899.3" y2="1936" stroke-width="3" stroke-dasharray="1.2 43.2"/>
<line x1="901.8" y1="1359.7" x2="901.8" y2="1936" stroke-width="8" stroke-dasharray="1.2 220.8"/>
</g>
<g font-size="24" text-anchor="end">
<text x="130" y="1368.3">115</text><text x="130" y="1590.3">120</text><text x="130" y="1812.3">125</text>
</g>
<g font-size="23" text-anchor="middle">
<text x="225.6" y="1973">8.8</text><text x="345.7" y="1973">8.6</text><text x="465.9" y="1973">8.4</text><text x="586" y="1973">8.2</text><text x="706" y="1973">8.0</text><text x="826.3" y="1973">7.8</text>
</g>
<text x="381" y="2006" font-size="26"><tspan font-size="15" baseline-shift="super">1</tspan>H – chemical shift (ppm)</text>
<text transform="translate(61.5,1606) rotate(-90)" y="9" text-anchor="middle" font-size="28"><tspan font-size="16" baseline-shift="super">15</tspan>N - chemical shift (ppm)</text>
<text x="155.3" y="1291.5" font-size="31">+FK20</text>
<g transform="matrix(1.0182 0 0 0.9889 -6 1239.6)">
<g fill="url(#pk)">
<ellipse cx="498.7" cy="58.1" rx="13" ry="7"/><ellipse cx="443" cy="93.9" rx="13" ry="7"/><ellipse cx="374" cy="120.2" rx="14" ry="7.5"/><ellipse cx="366.8" cy="143.6" rx="12" ry="7"/><ellipse cx="408" cy="169" rx="12" ry="7"/><ellipse cx="252.2" cy="200.2" rx="12" ry="6"/><ellipse cx="601.9" cy="228.5" rx="13" ry="7"/><ellipse cx="453" cy="252.4" rx="15" ry="8"/><ellipse cx="470" cy="327.5" rx="12" ry="7"/><ellipse cx="402" cy="341" rx="13" ry="8"/><ellipse cx="426" cy="339" rx="13" ry="8"/><ellipse cx="605" cy="341.7" rx="15" ry="9"/><ellipse cx="711" cy="329" rx="14" ry="7"/><ellipse cx="746.3" cy="323" rx="12" ry="6"/><ellipse cx="646" cy="351.7" rx="14" ry="8"/><ellipse cx="700.5" cy="356.7" rx="13" ry="7"/><ellipse cx="660" cy="369" rx="12" ry="7"/><ellipse cx="443" cy="366" rx="24" ry="12"/><ellipse cx="476" cy="366.5" rx="15" ry="7"/><ellipse cx="498" cy="366.5" rx="14" ry="7"/><ellipse cx="518" cy="366.5" rx="14" ry="7"/><ellipse cx="445" cy="384" rx="14" ry="8"/><ellipse cx="462" cy="393" rx="15" ry="8"/><ellipse cx="502.5" cy="388.3" rx="13" ry="8"/><ellipse cx="540" cy="384" rx="12" ry="7"/><ellipse cx="553" cy="389" rx="16" ry="8"/><ellipse cx="610" cy="411.7" rx="15" ry="8"/><ellipse cx="675" cy="408.3" rx="13" ry="7"/><ellipse cx="546" cy="416.7" rx="17" ry="11"/><ellipse cx="458.3" cy="463.3" rx="14" ry="7"/><ellipse cx="503" cy="463.3" rx="13" ry="7"/><ellipse cx="540" cy="465" rx="13" ry="7"/><ellipse cx="428.3" cy="494" rx="12" ry="6"/><ellipse cx="686.7" cy="651.8" rx="12" ry="6"/>
</g>
<g fill="none" stroke="#5a5af0" stroke-width="1.1">
<ellipse cx="578" cy="348" rx="13" ry="6"/><ellipse cx="578" cy="348" rx="7" ry="3"/>
<ellipse cx="425" cy="362" rx="14" ry="6"/><ellipse cx="447" cy="395" rx="14" ry="6"/><ellipse cx="540" cy="384" rx="14" ry="6"/><ellipse cx="598" cy="330" rx="5" ry="3"/><ellipse cx="568" cy="292" rx="3" ry="1.5"/>
</g>
<g stroke="#000" stroke-width="1.6" marker-end="url(#ah)">
<line x1="556" y1="42" x2="513" y2="53.7"/><line x1="518.7" y1="98.4" x2="465.4" y2="96.4"/><line x1="358" y1="97" x2="367" y2="115"/><line x1="326.7" y1="126.7" x2="353.7" y2="141.6"/><line x1="470" y1="149" x2="426" y2="166.4"/><line x1="248" y1="156.5" x2="248" y2="190"/><line x1="624.8" y1="197" x2="609" y2="219.6"/><line x1="470" y1="221" x2="455.7" y2="243.4"/><line x1="389.8" y1="297" x2="412.7" y2="325.4"/><line x1="365.7" y1="323" x2="392.6" y2="335.3"/><line x1="471" y1="300" x2="469" y2="318"/><line x1="486" y1="318" x2="470" y2="352.7"/><line x1="504.4" y1="339.3" x2="498.7" y2="355.2"/><line x1="535" y1="332" x2="520" y2="356.7"/><line x1="588" y1="316" x2="570" y2="342"/><line x1="622" y1="304" x2="607.6" y2="330.4"/><line x1="667.8" y1="328" x2="653.5" y2="346.3"/><line x1="730.8" y1="297" x2="719.4" y2="320.4"/><line x1="768" y1="294" x2="753.8" y2="314"/><line x1="755.5" y1="355.2" x2="719.4" y2="356.7"/><line x1="713.6" y1="401.4" x2="673.5" y2="375"/><line x1="341" y1="350.7" x2="415.6" y2="370"/><line x1="584.7" y1="374" x2="561.7" y2="380"/><line x1="616" y1="395" x2="575" y2="392"/><line x1="349.7" y1="381.5" x2="431" y2="386.5"/><line x1="355.4" y1="403.4" x2="436.8" y2="397.4"/><line x1="504.4" y1="427.2" x2="504.4" y2="401.4"/><line x1="616" y1="444.6" x2="569" y2="419.8"/><line x1="640.9" y1="431.2" x2="619" y2="421.3"/><line x1="581.8" y1="464.5" x2="550.3" y2="431.2"/><line x1="699.3" y1="447" x2="685" y2="418.3"/><line x1="398.4" y1="432.2" x2="444.2" y2="457"/><line x1="503.3" y1="501.8" x2="504.4" y2="474.4"/><line x1="554.9" y1="500.8" x2="544.5" y2="476"/><line x1="369.7" y1="463" x2="412.7" y2="486.9"/><line x1="636.3" y1="626" x2="676.4" y2="645.8"/>
</g>
<g class="pl">
<text x="561" y="52">G38</text><text x="526" y="116">G29</text><text x="354" y="91">G9</text><text x="295" y="124">G25</text><text x="482" y="170">G33</text><text x="233" y="157">G37</text><text x="612" y="198">S26</text><text x="480" y="226">S8</text><text x="366" y="299">E3</text><text x="320" y="331">N27</text><text x="461" y="304">E22</text><text x="495" y="317">Q15</text><text x="509" y="346">D7</text><text x="541" y="341">F4</text><text x="584" y="315">I31</text><text x="623" y="299">V24</text><text x="658" y="323">V12</text><text x="722" y="296">Y10</text><text x="774" y="303">V39</text><text x="766" y="366">V18</text><text x="724" y="420">L34</text><text x="252" y="363">M35,D23</text><text x="580" y="387">F20</text><text x="624" y="404">H13</text><text x="310" y="397">E11</text><text x="330" y="427">K16</text><text x="482" y="450">V36</text><text x="601" y="474">L17</text><text x="640" y="465">R5</text><text x="581" y="492">F19</text><text x="690" y="477">A30</text><text x="371" y="446">V40</text><text x="489" y="526">I32</text><text x="551" y="533">A21</text><text x="348" y="480">I41</text><text x="627" y="625">A42</text>
</g>
</g>

<!-- ================= PANEL F ================= -->
<text class="bl" x="9.4" y="2015">F</text>
<rect x="101.7" y="2047.3" width="864.6" height="290" fill="none" stroke="#000" stroke-width="2"/>
<line x1="101" y1="2337.3" x2="967" y2="2337.3" stroke="#000" stroke-width="3"/>
<path d="M101.7 2047.3h4M101.7 2076.3h4M101.7 2105.3h4M101.7 2134.3h4M101.7 2163.3h4M101.7 2192.3h4M101.7 2221.3h4M101.7 2250.3h4M101.7 2279.3h4M101.7 2308.3h4" stroke="#000" stroke-width="1.5"/>
<g font-size="20" text-anchor="end">
<text x="80" y="2054.3">0.10</text><text x="80" y="2083.3">0.09</text><text x="80" y="2112.3">0.08</text><text x="80" y="2141.3">0.07</text><text x="80" y="2170.3">0.06</text><text x="80" y="2199.3">0.05</text><text x="80" y="2228.3">0.04</text><text x="80" y="2257.3">0.03</text><text x="80" y="2286.3">0.02</text><text x="80" y="2315.3">0.01</text><text x="80" y="2344.3">0</text>
</g>
<text transform="translate(21.8,2193) rotate(-90)" y="9" text-anchor="middle" font-size="27">Δδ</text>
<text x="118.6" y="2088.5" font-size="30">+FK20</text>
<rect x="626" y="2055.7" width="10" height="12" fill="#ff0000"/><text x="640" y="2068.7" font-size="20">10 µM</text>
<rect x="724" y="2055.7" width="10" height="12" fill="#ffc000"/><text x="740" y="2068.7" font-size="20">20 µM</text>
<rect x="808" y="2055.7" width="10" height="12" fill="#548235"/><text x="822.7" y="2068.7" font-size="20">40 µM</text>
<rect x="892.6" y="2055.7" width="10" height="12" fill="#4472c4"/><text x="905" y="2068.7" font-size="20">80 µM</text>
<g transform="translate(101.7,2336.1) scale(4.117,-2.9)">
<g fill="#ff0000"><rect x="15.5" width="1" height="1"/><rect x="20.5" width="1" height="1"/><rect x="35.5" width="1" height="2"/><rect x="40.5" width="1" height="2"/><rect x="45.5" width="1" height="1.5"/><rect x="50.5" width="1" height="0.5"/><rect x="55.5" width="1" height="1"/><rect x="60.5" width="1" height="6.2"/><rect x="70.5" width="1" height="2"/><rect x="75.5" width="1" height="1"/><rect x="80.5" width="1" height="1"/><rect x="85.5" width="1" height="1.2"/><rect x="90.5" width="1" height="1"/><rect x="95.5" width="1" height="6.2"/><rect x="100.5" width="1" height="2"/><rect x="105.5" width="1" height="1"/><rect x="120.5" width="1" height="1"/><rect x="125.5" width="1" height="1"/><rect x="130.5" width="1" height="8"/><rect x="150.5" width="1" height="0.5"/><rect x="160.5" width="1" height="1"/><rect x="180.5" width="1" height="4"/><rect x="190.5" width="1" height="0.5"/><rect x="195.5" width="1" height="1"/><rect x="205.5" width="1" height="1"/></g>
<g fill="#ffc000"><rect x="11.5" width="1" height="2.2"/><rect x="16.5" width="1" height="3"/><rect x="21.5" width="1" height="2"/><rect x="31.5" width="1" height="3"/><rect x="36.5" width="1" height="3"/><rect x="41.5" width="1" height="1"/><rect x="46.5" width="1" height="1"/><rect x="51.5" width="1" height="1"/><rect x="56.5" width="1" height="1"/><rect x="61.5" width="1" height="5.2"/><rect x="71.5" width="1" height="6"/><rect x="76.5" width="1" height="4.5"/><rect x="81.5" width="1" height="3"/><rect x="86.5" width="1" height="1"/><rect x="91.5" width="1" height="2.2"/><rect x="96.5" width="1" height="28.5"/><rect x="101.5" width="1" height="1.8"/><rect x="106.5" width="1" height="2"/><rect x="111.5" width="1" height="3.2"/><rect x="116.5" width="1" height="0.5"/><rect x="121.5" width="1" height="1.8"/><rect x="126.5" width="1" height="4"/><rect x="131.5" width="1" height="10.8"/><rect x="141.5" width="1" height="1.8"/><rect x="146.5" width="1" height="2"/><rect x="151.5" width="1" height="4.7"/><rect x="156.5" width="1" height="1.8"/><rect x="161.5" width="1" height="2"/><rect x="166.5" width="1" height="1"/><rect x="171.5" width="1" height="3.2"/><rect x="176.5" width="1" height="1.8"/><rect x="181.5" width="1" height="3.5"/><rect x="186.5" width="1" height="1"/><rect x="191.5" width="1" height="0.5"/><rect x="196.5" width="1" height="2"/><rect x="201.5" width="1" height="3.5"/><rect x="206.5" width="1" height="0.5"/></g>
<g fill="#548235"><rect x="12.5" width="1" height="1.2"/><rect x="17.5" width="1" height="3"/><rect x="22.5" width="1" height="6.3"/><rect x="32.5" width="1" height="4"/><rect x="37.5" width="1" height="5"/><rect x="42.5" width="1" height="3"/><rect x="47.5" width="1" height="2.5"/><rect x="52.5" width="1" height="1"/><rect x="72.5" width="1" height="10"/><rect x="77.5" width="1" height="6"/><rect x="82.5" width="1" height="4"/><rect x="87.5" width="1" height="1"/><rect x="92.5" width="1" height="3"/><rect x="97.5" width="1" height="32.5"/><rect x="102.5" width="1" height="1.5"/><rect x="107.5" width="1" height="2.8"/><rect x="112.5" width="1" height="2.2"/><rect x="117.5" width="1" height="1.2"/><rect x="127.5" width="1" height="1"/><rect x="132.5" width="1" height="4.5"/><rect x="142.5" width="1" height="1.2"/><rect x="152.5" width="1" height="20.5"/><rect x="157.5" width="1" height="2"/><rect x="162.5" width="1" height="1.5"/><rect x="172.5" width="1" height="2.2"/><rect x="177.5" width="1" height="1"/><rect x="182.5" width="1" height="1"/><rect x="187.5" width="1" height="1.8"/><rect x="192.5" width="1" height="0.5"/><rect x="197.5" width="1" height="1.2"/><rect x="202.5" width="1" height="2.8"/><rect x="207.5" width="1" height="2.2"/></g>
<g fill="#4472c4"><rect x="13.5" width="1" height="6"/><rect x="18.5" width="1" height="6"/><rect x="23.5" width="1" height="14"/><rect x="33.5" width="1" height="6"/><rect x="38.5" width="1" height="10"/><rect x="43.5" width="1" height="5"/><rect x="48.5" width="1" height="5.2"/><rect x="53.5" width="1" height="2"/><rect x="58.5" width="1" height="2.5"/><rect x="63.5" width="1" height="3"/><rect x="73.5" width="1" height="12.7"/><rect x="78.5" width="1" height="15"/><rect x="83.5" width="1" height="15.3"/><rect x="88.5" width="1" height="3.2"/><rect x="93.5" width="1" height="4.2"/><rect x="98.5" width="1" height="44.5"/><rect x="103.5" width="1" height="1"/><rect x="108.5" width="1" height="2.8"/><rect x="113.5" width="1" height="14"/><rect x="118.5" width="1" height="1.2"/><rect x="123.5" width="1" height="0.5"/><rect x="128.5" width="1" height="3"/><rect x="133.5" width="1" height="4.2"/><rect x="143.5" width="1" height="2"/><rect x="153.5" width="1" height="38"/><rect x="158.5" width="1" height="2.8"/><rect x="163.5" width="1" height="1.5"/><rect x="168.5" width="1" height="2"/><rect x="173.5" width="1" height="14"/><rect x="178.5" width="1" height="2.2"/><rect x="183.5" width="1" height="1"/><rect x="188.5" width="1" height="1"/><rect x="193.5" width="1" height="0.8"/><rect x="198.5" width="1" height="1"/><rect x="203.5" width="1" height="1.5"/></g>
</g>
<g transform="translate(101.7,2380) rotate(-90)" font-size="19">
<text y="16.75">D1</text><text y="37.24">A2</text><text y="57.73">E3</text><text y="78.22">F4</text><text y="98.71">R5</text><text y="119.2">H6</text><text y="139.69">D7</text><text y="160.18">S8</text><text y="180.67">G9</text><text y="201.16">Y10</text><text y="221.65">E11</text><text y="242.14">V12</text><text y="262.63">H13</text><text y="283.12">H14</text><text y="303.61">Q15</text><text y="324.1">K16</text><text y="344.59">L17</text><text y="365.08">V18</text><text y="385.57">F19</text><text y="406.06">F20</text><text y="426.55">A21</text><text y="447.04">E22</text><text y="467.53">D23</text><text y="488.02">V24</text><text y="508.51">G25</text><text y="529">S26</text><text y="549.49">N27</text><text y="569.98">K28</text><text y="590.47">G29</text><text y="610.96">A30</text><text y="631.45">I31</text><text y="651.94">I32</text><text y="672.43">G33</text><text y="692.92">L34</text><text y="713.41">M35</text><text y="733.9">V36</text><text y="754.39">G37</text><text y="774.88">G38</text><text y="795.37">V39</text><text y="815.86">V40</text><text y="836.35">I41</text><text y="856.84">A42</text>
</g>
<text x="533.7" y="2415" font-size="25" text-anchor="middle">Amino acid sequence</text>
</svg>
</body></html>
